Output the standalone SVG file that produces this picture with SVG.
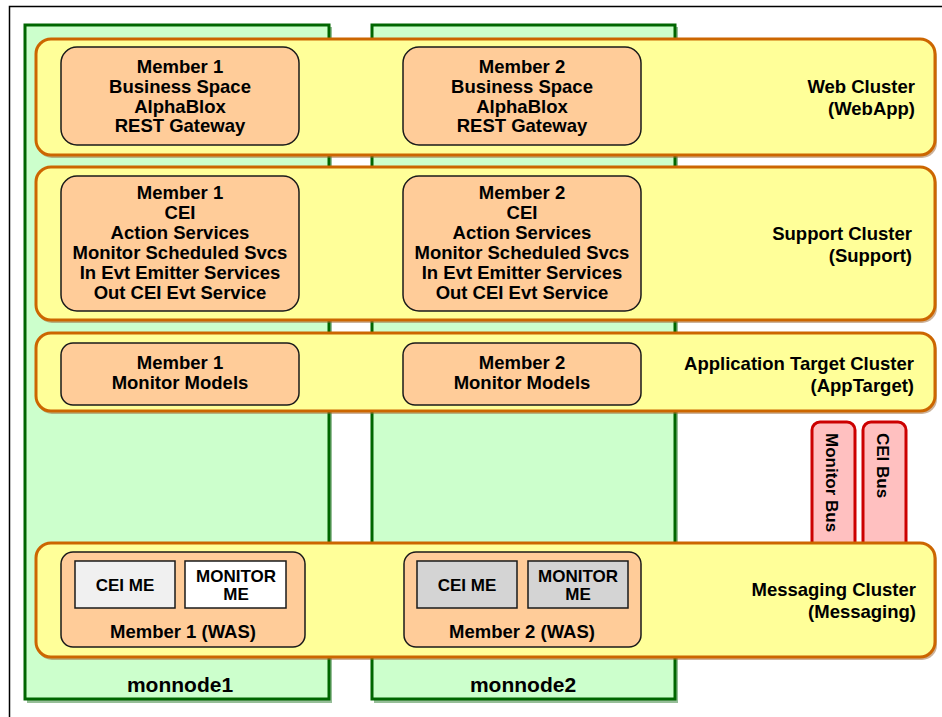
<svg xmlns="http://www.w3.org/2000/svg" width="942" height="717" viewBox="0 0 942 717">
<style>
text{font-family:"Liberation Sans",Arial,sans-serif;font-weight:bold;font-size:18.5px;fill:#000}
.c{text-anchor:middle}
.r{text-anchor:end}
.node{fill:#CCFFCC;stroke:#006600;stroke-width:3}
.nsh{fill:#2E7D32;opacity:0.5}
.cl{fill:#FFFF99;stroke:#CC6600;stroke-width:3}
.csh{fill:#996633;opacity:0.5}
.mem{fill:#FFCC99;stroke:#1a1a1a;stroke-width:1.5}
.me{stroke:#1a1a1a;stroke-width:1.5}
.bus{fill:#FFC0C0;stroke:#CC0000;stroke-width:3}
.bt{font-size:17px}
.nn{font-size:21px}
</style>
<rect x="0" y="0" width="942" height="717" fill="#fff"/>
<path d="M9.5 717 V6.5 H942" fill="none" stroke="#000" stroke-width="1.5"/>
<g id="monnode1">
<rect class="nsh" x="27" y="27" width="305" height="676"/>
<rect class="node" x="25" y="25" width="304" height="674"/>
<text class="c nn" x="180" y="692">monnode1</text>
</g>
<g id="monnode2">
<rect class="nsh" x="374" y="27" width="304" height="676"/>
<rect class="node" x="372" y="25" width="303" height="674"/>
<text class="c nn" x="523" y="692">monnode2</text>
</g>
<g id="monitor-bus">
<path class="bus" d="M812 545 V430 a8 8 0 0 1 8 -8 H847 a8 8 0 0 1 8 8 V545"/>
<text class="bt" transform="translate(826,433) rotate(90)">Monitor Bus</text>
</g>
<g id="cei-bus">
<path class="bus" d="M863 545 V430 a8 8 0 0 1 8 -8 H898 a8 8 0 0 1 8 8 V545"/>
<text class="bt" transform="translate(877,433) rotate(90)">CEI Bus</text>
</g>
<g id="web-cluster">
<rect class="csh" x="37" y="42" width="900" height="116" rx="15"/>
<rect class="cl" x="36" y="39" width="899" height="116" rx="15"/>
<text class="r" x="915" y="93">Web Cluster</text>
<text class="r" x="915" y="115">(WebApp)</text>
</g>
<g id="web-member1">
<rect class="mem" x="61" y="47" width="238" height="98" rx="16"/>
<text class="c" x="180" y="73">Member 1</text>
<text class="c" x="180" y="93">Business Space</text>
<text class="c" x="180" y="113">AlphaBlox</text>
<text class="c" x="180" y="132">REST Gateway</text>
</g>
<g id="web-member2">
<rect class="mem" x="403" y="47" width="238" height="98" rx="16"/>
<text class="c" x="522" y="73">Member 2</text>
<text class="c" x="522" y="93">Business Space</text>
<text class="c" x="522" y="113">AlphaBlox</text>
<text class="c" x="522" y="132">REST Gateway</text>
</g>
<g id="support-cluster">
<rect class="csh" x="37" y="170" width="900" height="153" rx="15"/>
<rect class="cl" x="36" y="167" width="899" height="153" rx="15"/>
<text class="r" x="912" y="240">Support Cluster</text>
<text class="r" x="912" y="262">(Support)</text>
</g>
<g id="support-member1">
<rect class="mem" x="61" y="176" width="238" height="135" rx="16"/>
<text class="c" x="180" y="199">Member 1</text>
<text class="c" x="180" y="219">CEI</text>
<text class="c" x="180" y="239">Action Services</text>
<text class="c" x="180" y="259">Monitor Scheduled Svcs</text>
<text class="c" x="180" y="279">In Evt Emitter Services</text>
<text class="c" x="180" y="299">Out CEI Evt Service</text>
</g>
<g id="support-member2">
<rect class="mem" x="403" y="176" width="238" height="135" rx="16"/>
<text class="c" x="522" y="199">Member 2</text>
<text class="c" x="522" y="219">CEI</text>
<text class="c" x="522" y="239">Action Services</text>
<text class="c" x="522" y="259">Monitor Scheduled Svcs</text>
<text class="c" x="522" y="279">In Evt Emitter Services</text>
<text class="c" x="522" y="299">Out CEI Evt Service</text>
</g>
<g id="apptarget-cluster">
<rect class="csh" x="37" y="336" width="900" height="78" rx="15"/>
<rect class="cl" x="36" y="333" width="899" height="78" rx="15"/>
<text class="r" x="914" y="370">Application Target Cluster</text>
<text class="r" x="914" y="392">(AppTarget)</text>
</g>
<g id="apptarget-member1">
<rect class="mem" x="61" y="343" width="238" height="62" rx="12"/>
<text class="c" x="180" y="369">Member 1</text>
<text class="c" x="180" y="389">Monitor Models</text>
</g>
<g id="apptarget-member2">
<rect class="mem" x="403" y="343" width="238" height="62" rx="12"/>
<text class="c" x="522" y="369">Member 2</text>
<text class="c" x="522" y="389">Monitor Models</text>
</g>
<g id="messaging-cluster">
<rect class="csh" x="37" y="546" width="900" height="114" rx="15"/>
<rect class="cl" x="36" y="543" width="899" height="114" rx="15"/>
<text class="r" x="916" y="596">Messaging Cluster</text>
<text class="r" x="916" y="618">(Messaging)</text>
</g>
<g id="messaging-member1">
<rect class="mem" x="61" y="552" width="244" height="95" rx="12"/>
<rect class="me" x="75" y="561" width="100" height="47" fill="#F0F0F0"/>
<text class="c bt" x="125" y="591">CEI ME</text>
<rect class="me" x="185" y="561" width="101" height="47" fill="#FFFFFF"/>
<text class="c bt" x="236" y="582">MONITOR</text>
<text class="c bt" x="236" y="600">ME</text>
<text class="c" x="183" y="638">Member 1 (WAS)</text>
</g>
<g id="messaging-member2">
<rect class="mem" x="404" y="552" width="237" height="95" rx="12"/>
<rect class="me" x="417" y="561" width="100" height="47" fill="#D4D4D4"/>
<text class="c bt" x="467" y="591">CEI ME</text>
<rect class="me" x="528" y="561" width="100" height="47" fill="#D4D4D4"/>
<text class="c bt" x="578" y="582">MONITOR</text>
<text class="c bt" x="578" y="600">ME</text>
<text class="c" x="522" y="638">Member 2 (WAS)</text>
</g>
<g id="connectors"></g>
</svg>
